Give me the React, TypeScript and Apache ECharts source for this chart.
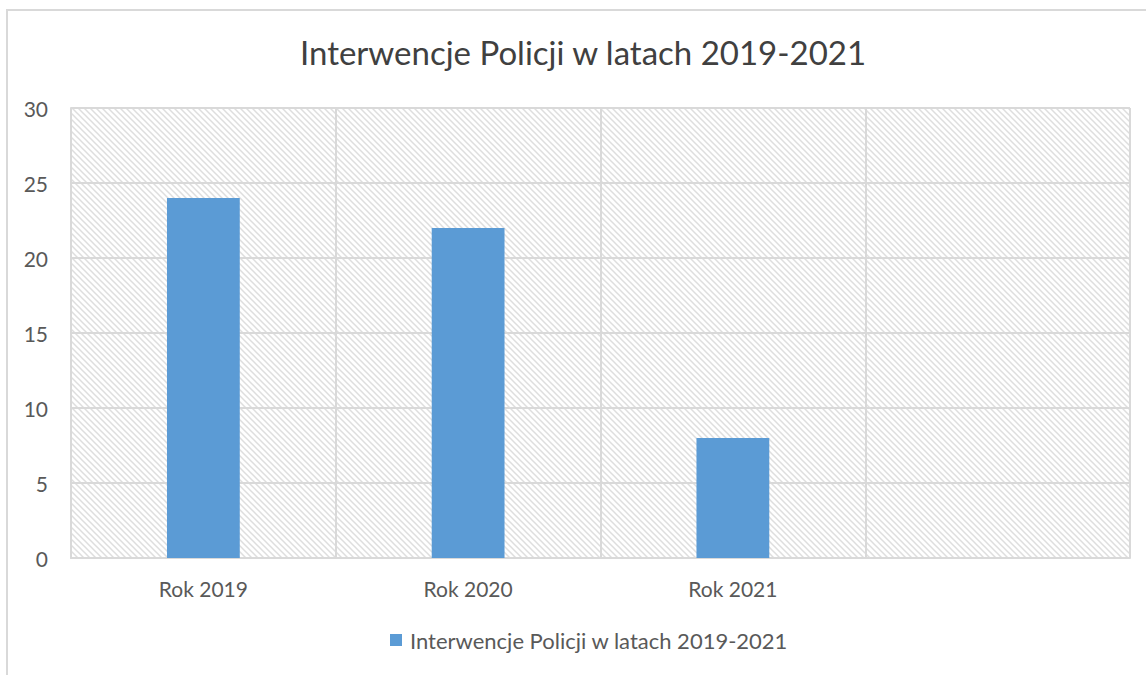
import React, { useEffect, useRef } from "react";
import * as echarts from "echarts";

const title = "Interwencje Policji w latach 2019-2021";
const categories = ["Rok 2019", "Rok 2020", "Rok 2021", ""];
const seriesName = "Interwencje Policji w latach 2019-2021";
const values = [24, 22, 8, null];
const yMin = 0;
const yMax = 30;
const yStep = 5;

function makeHatch(): any {
  const s = 6;
  const c = document.createElement("canvas");
  c.width = s;
  c.height = s;
  const ctx = c.getContext("2d")!;
  ctx.fillStyle = "#ffffff";
  ctx.fillRect(0, 0, s, s);
  ctx.strokeStyle = "#dedede";
  ctx.lineWidth = 1.5;
  for (let k = -1; k <= 1; k++) {
    ctx.beginPath();
    ctx.moveTo(-1, -1 + k * s);
    ctx.lineTo(s + 1, s + 1 + k * s);
    ctx.stroke();
  }
  return { image: c.toDataURL(), repeat: "repeat", imageWidth: s, imageHeight: s };
}

export default function App() {
  const ref = useRef<HTMLDivElement>(null);
  useEffect(() => {
    document.body.style.margin = "0";
    const chart = echarts.init(ref.current!, null, { renderer: "svg" });
    const hatch = makeHatch();
    const font = "Lato, 'Open Sans', sans-serif";
    chart.setOption({
      animation: false,
      backgroundColor: "#ffffff",
      textStyle: { fontFamily: font },
      title: {
        text: title,
        left: 295,
        top: 30,
        textStyle: { fontFamily: font, fontSize: 33, fontWeight: "normal", color: "#404040" },
      },
      graphic: [
        {
          type: "rect",
          shape: { x: 7, y: 10, width: 1200, height: 720 },
          style: { fill: "none", stroke: "#d9d9d9", lineWidth: 2 },
          silent: true,
          z: -1,
        },
      ],
      legend: {
        bottom: 19,
        left: 385,
        itemWidth: 12,
        itemHeight: 12,
        itemGap: 10,
        icon: "rect",
        textStyle: { fontFamily: font, fontSize: 22, color: "#595959", padding: [0, 0, 0, 3] },
        data: [seriesName],
      },
      grid: { left: 71, right: 16, top: 108, bottom: 117 },
      xAxis: {
        type: "category",
        data: categories,
        boundaryGap: true,
        axisLine: { show: true, lineStyle: { color: "#d9d9d9", width: 2 } },
        axisTick: { show: false },
        axisLabel: { fontFamily: font, fontSize: 21, color: "#595959", margin: 20 },
        splitLine: { show: true, lineStyle: { color: "#d9d9d9", width: 2 } },
      },
      yAxis: {
        type: "value",
        min: yMin,
        max: yMax,
        interval: yStep,
        axisLine: { show: true, lineStyle: { color: "#d9d9d9", width: 2 } },
        axisTick: { show: false },
        axisLabel: { fontFamily: font, fontSize: 21, color: "#595959", margin: 23 },
        splitLine: { show: true, lineStyle: { color: "#d9d9d9", width: 2 } },
        splitArea: { show: true, areaStyle: { color: [hatch] } },
      },
      series: [
        {
          name: seriesName,
          type: "bar",
          data: values,
          barWidth: "27.5%",
          itemStyle: { color: "#5b9bd5" },
        },
      ],
    });
    return () => chart.dispose();
  }, []);
  return <div ref={ref} style={{ width: 1146, height: 675 }} />;
}
